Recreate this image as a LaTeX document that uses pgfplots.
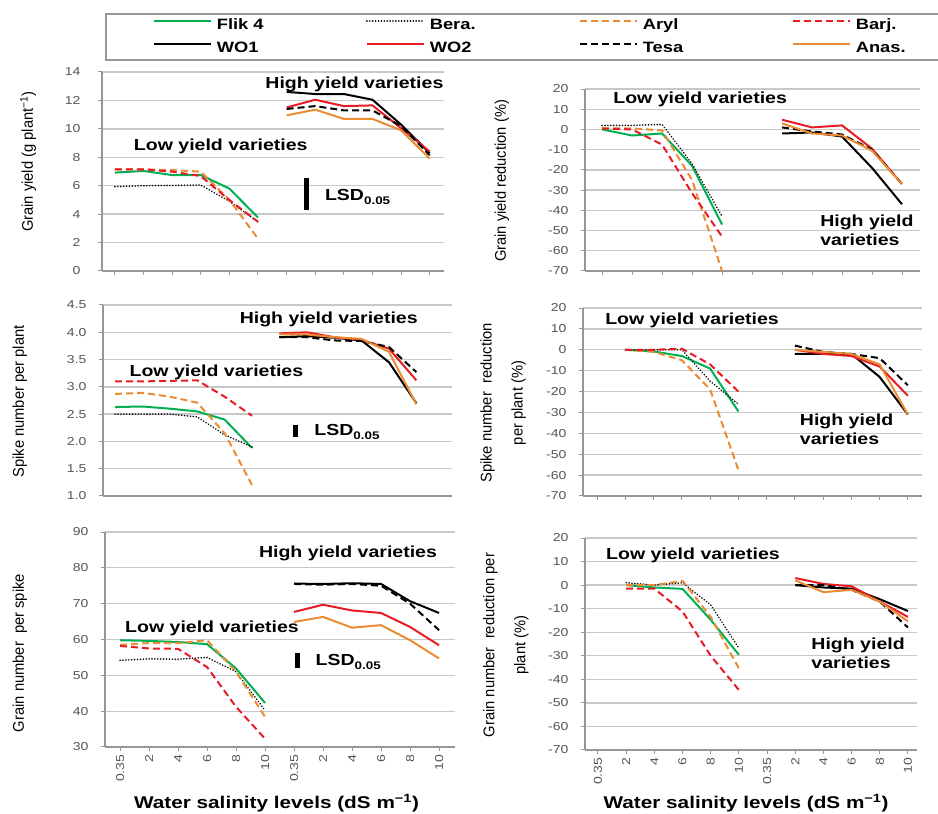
\documentclass[border=0pt]{standalone}
\usepackage{fontspec}
\setmainfont{Liberation Sans}[FakeStretch=1.22]
\newfontfamily\ylabfamily{Liberation Sans}[FakeStretch=0.95]
\usepackage{pgfplots}
\pgfplotsset{compat=1.18}
\definecolor{cgreen}{RGB}{0,176,80}
\definecolor{corange}{RGB}{234,140,52}
\definecolor{cred}{RGB}{232,28,36}
\definecolor{gridgray}{RGB}{200,200,200}
\definecolor{axisgray}{RGB}{150,150,150}
\definecolor{tickgray}{RGB}{85,85,85}
\newcommand\tickfont{\fontsize{11.5}{13}\selectfont}
\newcommand\annfont{\fontsize{16}{19}\selectfont\bfseries}
\newcommand\xlabfont{\fontsize{17}{19}\selectfont\bfseries}
\newcommand\ylabfont{\ylabfamily\fontsize{15.5}{31}\selectfont}
\newcommand\lsd{LSD{\fontsize{11}{12}\selectfont\raisebox{-3.5pt}{0.05}}}
\pgfplotsset{
 panel/.style={scale only axis, anchor=south west, axis lines*=left,
   axis line style={draw=axisgray,line width=1.3pt},
   ymajorgrids, grid style={draw=gridgray,line width=1.3pt},
   major tick style={draw=axisgray,line width=1pt}, tick align=outside, major tick length=4pt,
   xticklabels={}, ticklabel style={font=\tickfont, text=tickgray},
   yticklabel style={xshift=-9pt},
   /pgf/number format/assume math mode=true,
   ylabel style={font=\ylabfont, align=center, anchor=center},
   xlabel style={font=\xlabfont, anchor=center}, clip=false},
 flik/.style={draw=cgreen, line width=2pt},
 bera/.style={draw=black, line width=1.7pt, line cap=round, dash pattern=on 0.1pt off 2.8pt},
 aryl/.style={draw=corange, line width=2pt, dash pattern=on 7pt off 4pt},
 barj/.style={draw=cred, line width=2pt, dash pattern=on 7pt off 4pt},
 wo1/.style={draw=black, line width=2pt},
 wo2/.style={draw=cred, line width=2pt},
 tesa/.style={draw=black, line width=2pt, dash pattern=on 7pt off 4pt},
 anas/.style={draw=corange, line width=2pt},
}
\begin{document}
\begin{tikzpicture}
\path[use as bounding box] (0pt,0pt) rectangle (938pt,814pt);
% ---------------- Panel 1: grain yield
\begin{axis}[panel, at={(102pt,543pt)}, width=342pt, height=199pt,
  xmin=-0.45, xmax=11.5, ymin=0, ymax=14, ytick={0,2,...,14}, xtick={0,...,11},
  yticklabel style={xshift=-5pt},
  ylabel={Grain yield (g plant\textsuperscript{−1})},
  ylabel style={at={(axis description cs:-0.216,0.55)}},
  legend columns=4,
  legend style={at={(axis description cs:0.009,1.296)}, anchor=north west, draw=axisgray, line width=1.5pt,
    inner xsep=47pt, inner ysep=5pt, row sep=10pt, font=\fontsize{15}{17}\selectfont\bfseries,
    nodes={inner sep=0pt, text height=11pt, text depth=2pt}},
  legend image code/.code={\draw[#1] (0pt,4.5pt) -- (57pt,4.5pt);},
]
\addplot[flik] coordinates {(0,6.92) (1,7.04) (2,6.75) (3,6.75) (4,5.8) (5,3.76)};
\addplot[bera] coordinates {(0,5.93) (1,6.0) (2,6.02) (3,6.05) (4,4.9) (5,3.46)};
\addplot[aryl] coordinates {(0,7.15) (1,7.15) (2,7.1) (3,6.99) (4,5.0) (5,2.28)};
\addplot[barj] coordinates {(0,7.15) (1,7.15) (2,6.99) (3,6.68) (4,4.99) (5,3.46)};
\addplot[wo1] coordinates {(6,12.6) (7,12.45) (8,12.45) (9,12.05) (10,10.3) (11,8.3)};
\addplot[wo2] coordinates {(6,11.5) (7,12.05) (8,11.6) (9,11.65) (10,10.05) (11,8.4)};
\addplot[tesa] coordinates {(6,11.4) (7,11.6) (8,11.3) (9,11.3) (10,10.2) (11,8.15)};
\addplot[anas] coordinates {(6,10.95) (7,11.35) (8,10.7) (9,10.7) (10,9.9) (11,7.9)};
\addplot[black, line width=5pt, forget plot] coordinates {(6.7,4.3) (6.7,6.55)};
\legend{\makebox[154pt][l]{\hspace{5pt}Flik 4},\makebox[154pt][l]{\hspace{5pt}Bera.},\makebox[154pt][l]{\hspace{5pt}Aryl},\makebox[41pt][l]{\hspace{5pt}Barj.},
 \makebox[154pt][l]{\hspace{5pt}WO1},\makebox[154pt][l]{\hspace{5pt}WO2},\makebox[154pt][l]{\hspace{5pt}Tesa},\makebox[41pt][l]{\hspace{5pt}Anas.}}
\node[font=\annfont] at (axis cs:8.37,13.16) {High yield varieties};
\node[font=\annfont] at (axis cs:3.7,8.8) {Low yield varieties};
\node[font=\annfont, anchor=west] at (axis cs:7.22,5.2) {\lsd};
\end{axis}
% ---------------- Panel 2: grain yield reduction
\begin{axis}[panel, at={(585pt,543pt)}, width=335pt, height=182pt,
  xmin=-0.57, xmax=10.6, ymin=-70, ymax=20, ytick={-70,-60,...,20}, xtick={0,...,10},
  ylabel={Grain yield reduction (\%)},
  ylabel style={at={(axis description cs:-0.248,0.495)}}]
\addplot[flik] coordinates {(0,0) (1,-3) (2,-2) (3,-18) (4,-47)};
\addplot[bera] coordinates {(0,2) (1,2) (2,2.5) (3,-17) (4,-43)};
\addplot[aryl] coordinates {(0,0.5) (1,0.5) (2,-0.5) (3,-25) (4,-70)};
\addplot[barj] coordinates {(0,0.5) (1,0) (2,-7.5) (3,-31.5) (4,-53)};
\addplot[wo1] coordinates {(6,-2) (7,-1.5) (8,-3.5) (9,-19) (10,-37)};
\addplot[wo2] coordinates {(6,4.8) (7,1) (8,2) (9,-9.5) (10,-27)};
\addplot[tesa] coordinates {(6,1) (7,-1) (8,-2.5) (9,-10) (10,-27)};
\addplot[anas] coordinates {(6,3) (7,-2) (8,-3) (9,-10.5) (10,-27)};
\node[font=\annfont] at (axis cs:3.27,14.7) {Low yield varieties};
\node[font=\annfont, align=left] at (axis cs:8.83,-49.7) {High yield\\varieties};
\end{axis}
% ---------------- Panel 3: spike number
\begin{axis}[panel, at={(103pt,318pt)}, width=349pt, height=191pt,
  xmin=-0.44, xmax=12.3, ymin=1, ymax=4.5, ytick={1,1.5,...,4.5}, xtick=\empty,
  yticklabel style={/pgf/number format/.cd, fixed, fixed zerofill, precision=1},
  ylabel={Spike number per plant},
  ylabel style={at={(axis description cs:-0.238,0.495)}}]
\addplot[flik] coordinates {(0,2.63) (1,2.64) (2,2.6) (3,2.55) (4,2.4) (5,1.88)};
\addplot[bera] coordinates {(0,2.5) (1,2.5) (2,2.5) (3,2.45) (4,2.12) (5,1.9)};
\addplot[aryl] coordinates {(0,2.87) (1,2.89) (2,2.82) (3,2.71) (4,2.15) (5,1.2)};
\addplot[barj] coordinates {(0,3.1) (1,3.1) (2,3.11) (3,3.12) (4,2.82) (5,2.47)};
\addplot[wo1] coordinates {(6,3.91) (7,3.93) (8,3.9) (9,3.85) (10,3.45) (11,2.7)};
\addplot[wo2] coordinates {(6,3.98) (7,4.0) (8,3.91) (9,3.86) (10,3.7) (11,3.12)};
\addplot[tesa] coordinates {(6,3.91) (7,3.91) (8,3.85) (9,3.84) (10,3.73) (11,3.27)};
\addplot[anas] coordinates {(6,3.96) (7,3.96) (8,3.91) (9,3.88) (10,3.64) (11,2.68)};
\addplot[black, line width=5pt, forget plot] coordinates {(6.6,2.08) (6.6,2.3)};
\node[font=\annfont] at (axis cs:7.8,4.24) {High yield varieties};
\node[font=\annfont] at (axis cs:3.7,3.27) {Low yield varieties};
\node[font=\annfont, anchor=west] at (axis cs:7.15,2.17) {\lsd};
\end{axis}
% ---------------- Panel 4: spike number reduction
\begin{axis}[panel, at={(583pt,318pt)}, width=339pt, height=188pt,
  xmin=-0.5, xmax=11.5, ymin=-70, ymax=20, ytick={-70,-60,...,20}, xtick={0,...,11},
  ylabel={Spike number\ \ reduction\\per plant (\%)},
  ylabel style={at={(axis description cs:-0.236,0.495)}}]
\addplot[flik] coordinates {(1,0) (2,-0.8) (3,-3) (4,-9) (5,-29.5)};
\addplot[bera] coordinates {(1,0) (2,0) (3,0) (4,-15) (5,-26)};
\addplot[aryl] coordinates {(1,0) (2,-1) (3,-5) (4,-19) (5,-57.5)};
\addplot[barj] coordinates {(1,0) (2,0) (3,0.5) (4,-7) (5,-20)};
\addplot[wo1] coordinates {(7,-2) (8,-2) (9,-2) (10,-13) (11,-31)};
\addplot[wo2] coordinates {(7,0) (8,-2) (9,-3) (10,-8) (11,-22)};
\addplot[tesa] coordinates {(7,2) (8,-1) (9,-2) (10,-4) (11,-17)};
\addplot[anas] coordinates {(7,0) (8,-1) (9,-2) (10,-7) (11,-31)};
\node[font=\annfont] at (axis cs:3.36,14.3) {Low yield varieties};
\node[font=\annfont, align=left] at (axis cs:8.83,-37.9) {High yield\\varieties};
\end{axis}
% ---------------- Panel 5: grain number per spike
\begin{axis}[panel, at={(105pt,67pt)}, width=350pt, height=215pt,
  xmin=-0.52, xmax=11.55, ymin=30, ymax=90, ytick={30,40,...,90}, xtick={0,...,11},
  xticklabels={0.35,2,4,6,8,10,0.35,2,4,6,8,10},
  xticklabel style={rotate=90, anchor=east},
  ylabel={Grain number\ \ per spike},
  ylabel style={at={(axis description cs:-0.243,0.437)}},
  xlabel={Water salinity levels (dS m\textsuperscript{−1})},
  xlabel style={at={(axis description cs:0.49,-0.26)}}]
\addplot[flik] coordinates {(0,59.8) (1,59.6) (2,59.3) (3,58.7) (4,51.9) (5,42.3)};
\addplot[bera] coordinates {(0,54.2) (1,54.6) (2,54.5) (3,55) (4,51) (5,40.2)};
\addplot[aryl] coordinates {(0,58.5) (1,59) (2,59) (3,59.8) (4,51) (5,38.4)};
\addplot[barj] coordinates {(0,58.2) (1,57.5) (2,57.4) (3,52.3) (4,41.2) (5,32.3)};
\addplot[wo1] coordinates {(6,75.6) (7,75.5) (8,75.7) (9,75.5) (10,70.7) (11,67.4)};
\addplot[wo2] coordinates {(6,67.7) (7,69.7) (8,68.1) (9,67.4) (10,63.5) (11,58.4)};
\addplot[tesa] coordinates {(6,75.5) (7,75.3) (8,75.5) (9,75) (10,70) (11,62.6)};
\addplot[anas] coordinates {(6,64.9) (7,66.3) (8,63.3) (9,64) (10,59.8) (11,54.7)};
\addplot[black, line width=5pt, forget plot] coordinates {(6.13,52) (6.13,56.2)};
\node[font=\annfont] at (axis cs:7.86,84.1) {High yield varieties};
\node[font=\annfont] at (axis cs:3.17,63.2) {Low yield varieties};
\node[font=\annfont, anchor=west] at (axis cs:6.62,53.7) {\lsd};
\end{axis}
% ---------------- Panel 6: grain number reduction
\begin{axis}[panel, at={(585pt,64pt)}, width=332pt, height=212pt,
  xmin=-0.46, xmax=11.32, ymin=-70, ymax=20, ytick={-70,-60,...,20}, xtick={0,...,11},
  xticklabels={0.35,2,4,6,8,10,0.35,2,4,6,8,10},
  xticklabel style={rotate=90, anchor=east},
  ylabel={Grain number\ \ reduction per\\plant (\%)},
  ylabel style={at={(axis description cs:-0.238,0.495)}},
  xlabel={Water salinity levels (dS m\textsuperscript{−1})},
  xlabel style={at={(axis description cs:0.485,-0.25)}}]
\addplot[flik] coordinates {(1,0) (2,-1) (3,-1.6) (4,-14.7) (5,-29.6)};
\addplot[bera] coordinates {(1,1) (2,0) (3,1) (4,-8.4) (5,-26.8)};
\addplot[aryl] coordinates {(1,0) (2,0) (3,1.8) (4,-13.5) (5,-35.4)};
\addplot[barj] coordinates {(1,-1.5) (2,-1.5) (3,-11.2) (4,-30) (5,-44.5)};
\addplot[wo1] coordinates {(7,0) (8,-1) (9,-1.5) (10,-6) (11,-11)};
\addplot[wo2] coordinates {(7,3) (8,0.5) (9,-0.5) (10,-7) (11,-13.5)};
\addplot[tesa] coordinates {(7,0) (8,0) (9,-2) (10,-7) (11,-18)};
\addplot[anas] coordinates {(7,2) (8,-3) (9,-2) (10,-7) (11,-15.4)};
\node[font=\annfont] at (axis cs:3.37,12.8) {Low yield varieties};
\node[font=\annfont, align=left] at (axis cs:9.23,-28.8) {High yield\\varieties};
\end{axis}
\end{tikzpicture}
\end{document}
